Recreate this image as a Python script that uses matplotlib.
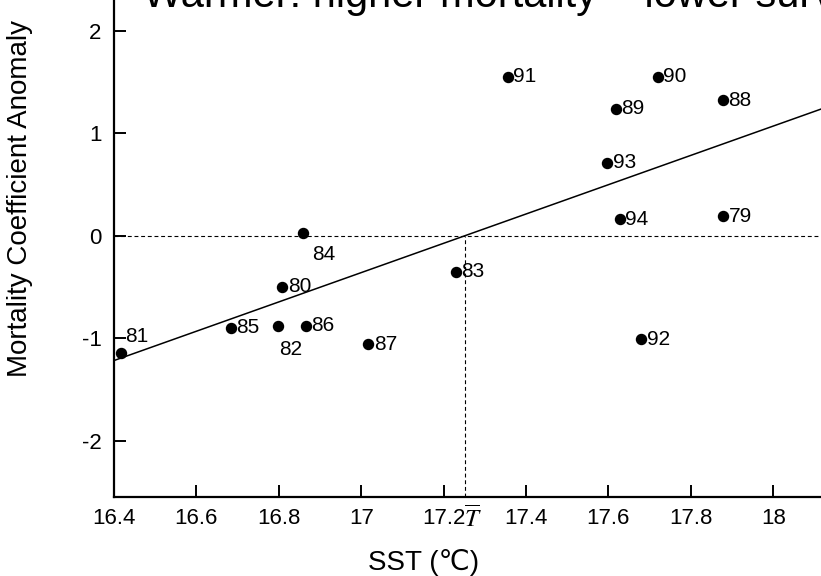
import matplotlib
matplotlib.use("Agg")
import matplotlib.pyplot as plt
import matplotlib.transforms as mtransforms

plt.rcParams["font.family"] = ["Liberation Sans", "DejaVu Sans"]
plt.rcParams["axes.unicode_minus"] = False
plt.rcParams["mathtext.fontset"] = "stix"

# yearly points: SST vs mortality coefficient anomaly
years = ["79", "80", "81", "82", "83", "84", "85", "86", "87", "88",
         "89", "90", "91", "92", "93", "94"]
sst = [17.878, 16.808, 16.417, 16.798, 17.23, 16.859, 16.684, 16.866, 17.017, 17.878,
       17.618, 17.72, 17.356, 17.68, 17.597, 17.628]
mortality = [0.19, -0.50, -1.14, -0.88, -0.35, 0.03, -0.90, -0.88, -1.06, 1.32,
             1.24, 1.55, 1.55, -1.01, 0.71, 0.16]

# fitted line y = slope * (x - T_bar)
t_bar = 17.252
slope = 1.43

x_ticks = [16.4, 16.6, 16.8, 17.0, 17.2, 17.4, 17.6, 17.8, 18.0]
x_tick_labels = ["16.4", "16.6", "16.8", "17", "17.2", "17.4", "17.6", "17.8", "18"]
y_ticks = [-2, -1, 0, 1, 2]

# label placement (offset points); default is right of the dot
label_offsets = {"81": (3, 11.5, "left"), "82": (9, -17, "center"), "84": (15, -16, "center")}

fig = plt.figure(figsize=(8.21, 5.76), dpi=100)
ax = fig.add_axes([114 / 821, 79 / 576, 707 / 821, 497 / 576])
xlim = (16.4, 18.116)
ylim = (-2.55, 2.30)
ax.set_xlim(*xlim)
ax.set_ylim(*ylim)

dash = (0, (3.5, 2.5))
ax.plot([xlim[0], xlim[1]], [0, 0], color="black", lw=0.8, linestyle=dash)
ax.plot([t_bar, t_bar], [ylim[0], 0], color="black", lw=0.8, linestyle=dash)
ax.plot([xlim[0], xlim[1]], [slope * (xlim[0] - t_bar), slope * (xlim[1] - t_bar)],
        color="black", lw=1.1)

ax.scatter(sst, mortality, s=52, color="black", zorder=3)
for yr, x, y in zip(years, sst, mortality):
    dx, dy, ha = label_offsets.get(yr, (4, 0, "left"))
    ax.annotate(yr, (x, y), xytext=(dx, dy), textcoords="offset points",
                ha=ha, va="center", fontsize=15)

for side in ("top", "right"):
    ax.spines[side].set_visible(False)
for side in ("left", "bottom"):
    ax.spines[side].set_linewidth(1.6)

ax.set_xticks(x_ticks)
ax.set_xticklabels(x_tick_labels)
ax.set_yticks(y_ticks)
ax.tick_params(direction="in", length=8.5, width=1.4, labelsize=16)
ax.tick_params(axis="x", pad=8)
ax.tick_params(axis="y", pad=9)

trans = mtransforms.blended_transform_factory(ax.transData, ax.transAxes)
ax.text(t_bar + 0.018, -0.042, r"$\overline{T}$", transform=trans,
        ha="center", va="center", fontsize=18)

ax.set_xlabel("SST (℃)", fontsize=20)
ax.xaxis.set_label_coords(0.438, -0.105)
ax.set_ylabel("Mortality Coefficient Anomaly", fontsize=20)
ax.yaxis.set_label_coords(-0.115, 0.6)

# title sits partly above the visible frame, as in the reference
fig.text(143 / 821, 1 - 7 / 576, "Warmer: higher mortality = lower survival",
         fontsize=30, ha="left", va="baseline")

fig.savefig("out.png", dpi=100)
